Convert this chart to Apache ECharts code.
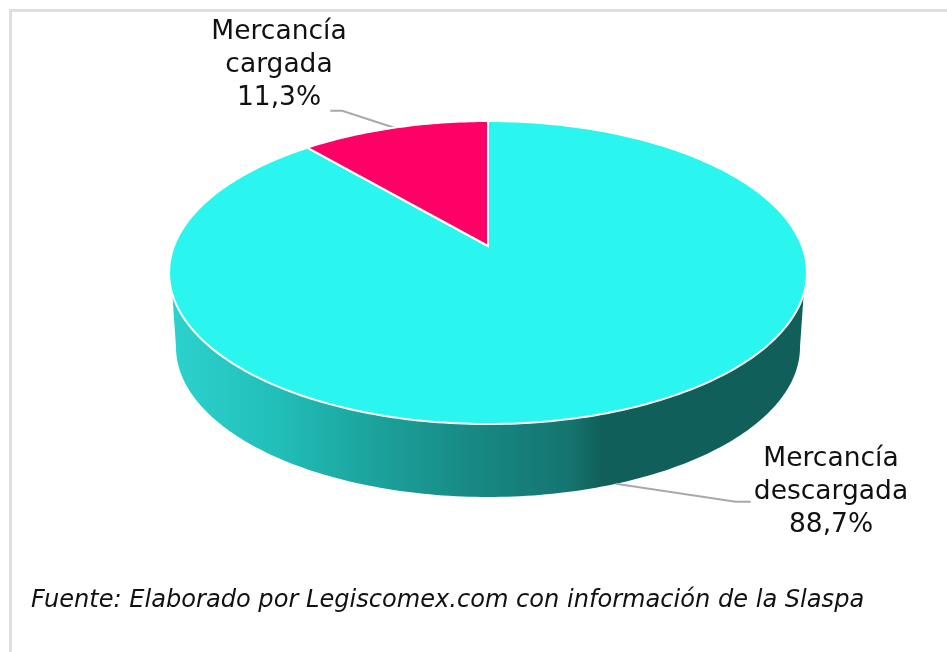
<!DOCTYPE html>
<html>
<head>
	<title>Mercancia</title>
	<meta charset="utf-8">
	<script src="https://cdn.jsdelivr.net/npm/echarts@6/dist/echarts.min.js"></script>
	<style>
		html, body { margin: 0; padding: 0; background: #fff; }
		#chart { width: 947px; height: 652px; }
	</style>
</head>
<body>
	<div id="chart"></div>
<script>
	var sliceNames = ['Mercancía\ndescargada', 'Mercancía\ncargada'];
	var sliceValues = [88.7, 11.3];
	var sliceColors = ['#2af5ef', '#ff0066'];
	var sourceText = 'Fuente: Elaborado por Legiscomex.com con información de la Slaspa';

	var FONT = '"DejaVu Sans", Verdana, sans-serif';
	var cx = 488;
	// the disc is seen in perspective: apex is above the middle of the ellipse
	var topDisc = { a: 103.84, b: 246, c: -0.175, d: 314 };
	var bottomDisc = { a: 89.25, b: 320.75, c: -0.175, d: 307.2 };

	function discPoint(disc, deg) {
		var t = deg * Math.PI / 180;
		var u = Math.sin(t), v = -Math.cos(t);
		var w = 1 + disc.c * v;
		return [cx + disc.d * u / w, (disc.a * v + disc.b) / w];
	}

	function arcPoints(disc, from, to) {
		var pts = [];
		var n = Math.max(2, Math.ceil(Math.abs(to - from)));
		for (var i = 0; i <= n; i++) {
			pts.push(discPoint(disc, from + (to - from) * i / n));
		}
		return pts;
	}

	function sideFill() {
		// shading of the rim, left to right
		return new echarts.graphic.LinearGradient(0, 0, 1, 0, [
			{ offset: 0, color: '#2bd2cd' },
			{ offset: 0.05, color: '#2accc7' },
			{ offset: 0.16, color: '#22bfb9' },
			{ offset: 0.315, color: '#1ca39d' },
			{ offset: 0.47, color: '#188a85' },
			{ offset: 0.63, color: '#15746f' },
			{ offset: 0.68, color: '#115f5a' },
			{ offset: 1, color: '#115f5a' }
		]);
	}

	function renderSlice(params, api) {
		var start = api.value(0) / 100 * 360;
		var end = api.value(1) / 100 * 360;
		var mid = (start + end) / 2;
		var children = [];

		// rim is only seen on the near half of the disc
		var near = mid > 90 && mid < 270;
		if (near) {
			var rim = arcPoints(topDisc, 108, 252).concat(arcPoints(bottomDisc, 260, 100));
			children.push({
				type: 'polygon',
				shape: { points: rim },
				style: { fill: sideFill() }
			});
		}

		var top = [[cx, topDisc.b]].concat(arcPoints(topDisc, start, end));
		children.push({
			type: 'polygon',
			z2: 2,
			shape: { points: top },
			style: { fill: sliceColors[params.dataIndex], stroke: '#fff', lineWidth: 2 }
		});

		// connector goes from the middle of the slice to the label
		var from, elbow, tail, labelX, labelY;
		if (near) {
			from = discPoint(bottomDisc, mid);
			elbow = [from[0] + 120, from[1] + 18];
			tail = [elbow[0] + 15, elbow[1]];
			labelX = 831;
			labelY = 443;
		} else {
			from = discPoint(topDisc, mid);
			elbow = [from[0] - 52, from[1] - 17];
			tail = [elbow[0] - 12, elbow[1]];
			labelX = 279;
			labelY = 16;
		}
		children.push({
			type: 'polyline',
			z2: 1,
			shape: { points: [from, elbow, tail] },
			style: { stroke: '#a9a9a9', lineWidth: 2, fill: null }
		});
		children.push({
			type: 'text',
			z2: 3,
			style: {
				text: sliceNames[params.dataIndex] + '\n' + String(sliceValues[params.dataIndex]).replace('.', ',') + '%',
				x: labelX,
				y: labelY,
				align: 'center',
				verticalAlign: 'top',
				fontFamily: FONT,
				fontSize: 26.5,
				lineHeight: 33,
				fill: '#111'
			}
		});
		return { type: 'group', children: children };
	}

	var running = 0;
	var sliceData = sliceValues.map(function (v, i) {
		var item = { name: sliceNames[i], value: [running, running + v] };
		running += v;
		return item;
	});

	var option = {
		backgroundColor: '#fff',
		animation: false,
		graphic: [
			{ type: 'rect', shape: { x: 9, y: 9, width: 938, height: 3 }, style: { fill: '#dedede' } },
			{ type: 'rect', shape: { x: 9, y: 9, width: 3, height: 643 }, style: { fill: '#dedede' } },
			{
				type: 'text',
				style: {
					text: sourceText,
					x: 31,
					y: 589,
					fontFamily: FONT,
					fontStyle: 'italic',
					fontSize: 24.1,
					fill: '#111'
				}
			}
		],
		series: [{
			type: 'custom',
			coordinateSystem: 'none',
			silent: true,
			renderItem: renderSlice,
			data: sliceData
		}]
	};

	var chart = echarts.init(document.getElementById('chart'));
	chart.setOption(option);
</script>
</body>
</html>
